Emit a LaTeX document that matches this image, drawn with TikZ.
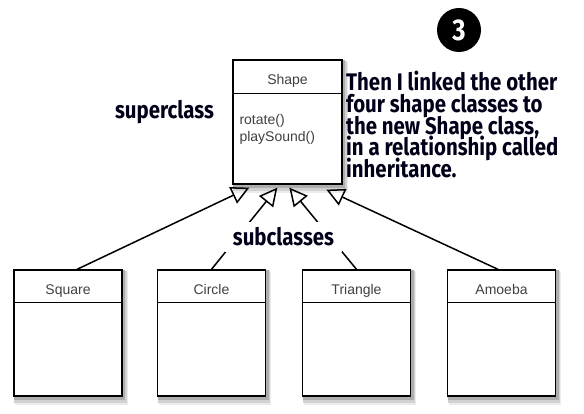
\documentclass[tikz,border=0pt]{standalone}
\usepackage{fontspec}
\setmainfont{Liberation Sans}
\newfontfamily\handfont[FakeStretch=0.85]{Fira Sans}
\newcommand\tightlines{\lineskiplimit=-30pt\relax}
\usetikzlibrary{calc,positioning,arrows.meta,backgrounds}

\begin{document}
\begin{tikzpicture}[x=1pt, y=-1pt,
	classbox/.style={draw, line width=1.3pt, fill=white, inner sep=0pt,
		minimum width=108pt, minimum height=126pt},
	classname/.style={font=\fontsize{14}{16.5}\selectfont, text=black!75, anchor=base},
	inherit/.style={-{Triangle[open, length=18pt, width=18pt]}, line width=1.5pt},
	note/.style={font=\handfont\bfseries\fontsize{24}{21.7}\selectfont\tightlines,
		text=black!90!blue}
]

	\def\sub{33} % height of a class name part

	% page
	\useasboundingbox (0,0) rectangle (584,414);

	% superclass
	\node[classbox, minimum width=109pt, minimum height=124pt] (shape) at (287.5,122) {};
	\draw[line width=1.3pt] ($(shape.north west)+(0,34)$) -- ($(shape.north east)+(0,34)$);
	\node[classname] (shapename) at ($(shape.north)+(0,25)$) {Shape};
	\node[classname, anchor=north west, align=left, inner sep=0pt] (shapeops)
		at ($(shape.north west)+(7,55)$) {rotate()\\playSound()};

	% subclasses
	\foreach \nm/\txt/\cx in {squarebox/Square/68, circlebox/Circle/211.5,
		trianglebox/Triangle/356.5, amoebabox/Amoeba/501.5} {
		\node[classbox] (\nm) at (\cx,333) {};
		\draw[line width=1.3pt] ($(\nm.north west)+(0,\sub)$) -- ($(\nm.north east)+(0,\sub)$);
		\node[classname] (\nm name) at ($(\nm.north)+(0,25.5)$) {\txt};
	}

	% soft shadows
	\begin{scope}[on background layer]
		\foreach \nm in {shape, squarebox, circlebox, trianglebox, amoebabox} {
			\fill[black!8] ([shift={(2,3)}]\nm.north west) rectangle ([shift={(5,8)}]\nm.south east);
			\fill[black!18] ([shift={(1,2)}]\nm.north west) rectangle ([shift={(4,6)}]\nm.south east);
			\fill[black!32] ([shift={(1,1)}]\nm.north west) rectangle ([shift={(2.5,3.5)}]\nm.south east);
		}
	\end{scope}

	% arrow tips under the superclass
	\coordinate (tip1) at ($(shape.south west)+(17,3)$);
	\coordinate (tip2) at ($(shape.south west)+(45,3)$);
	\coordinate (tip3) at ($(shape.south west)+(57,3)$);
	\coordinate (tip4) at ($(shape.south west)+(94,5)$);

	% inheritance
	\draw[inherit] ([xshift=9pt]squarebox.north) -- (tip1);
	\draw[inherit] (circlebox.north) -- (tip2);
	\draw[inherit] (trianglebox.north) -- (tip3);
	\draw[inherit] ([xshift=-3.5pt]amoebabox.north) -- (tip4);

	% labels
	\node[note, fill=white, inner xsep=8pt, inner ysep=6pt] (subclasses) at (283.5,237) {subclasses};
	\node[note] (superclass) at (164.5,112) {superclass};

	% step number
	\node[circle, fill=black, minimum size=44pt, inner sep=0pt, text=white,
		font=\handfont\bfseries\fontsize{30}{30}\selectfont] (stepnum) at (459,30) {3};

	% explanation
	\node[note, anchor=north west, align=left, inner sep=0pt] (explain) at (346,71)
		{Then I linked the other\\four shape classes to\\the new Shape class,\\in a relationship called\\inheritance.};

\end{tikzpicture}
\end{document}
